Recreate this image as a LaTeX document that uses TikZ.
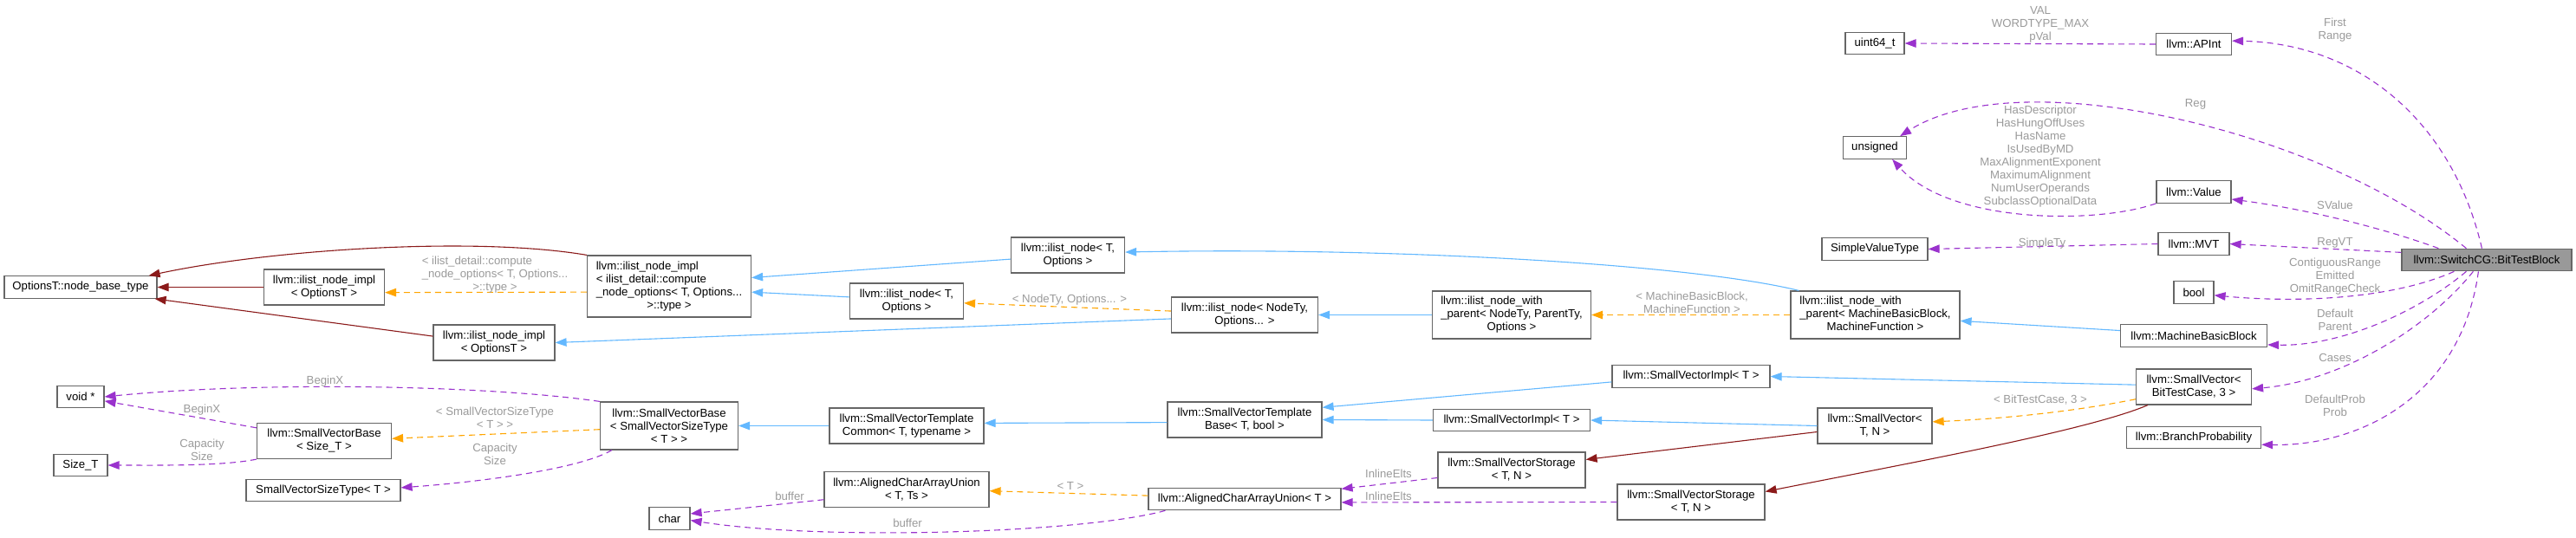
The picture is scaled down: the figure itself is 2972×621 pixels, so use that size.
\documentclass[tikz,border=0pt]{standalone}
\usepackage{fontspec}
\setmainfont{Liberation Sans}
\usetikzlibrary{arrows.meta}
\definecolor{edgeblue}{HTML}{63B8FF}
\definecolor{edgered}{HTML}{8B1A1A}
\definecolor{edgeorange}{HTML}{FFA500}
\definecolor{edgepurple}{HTML}{9A32CD}
\definecolor{lblgray}{HTML}{9A9A9A}
\definecolor{boxgray}{HTML}{666666}
\definecolor{focusgray}{HTML}{999999}
% left-aligned lines, last line centred (doxygen style)
\newcommand{\leftlines}[2]{\begin{tabular}{@{}l@{}}#1\\\multicolumn{1}{@{}c@{}}{#2}\end{tabular}}

\begin{document}
\begin{tikzpicture}[
    x=1pt, y=-1pt,
    every node/.style = {font=\fontsize{13.2}{15}\selectfont},
    cls/.style = {draw=boxgray, fill=white, line width=1.2pt, inner sep=2pt,
                  align=center, minimum height=25.5},
    lines2/.style = {minimum height=41},
    lines3/.style = {minimum height=55},
    lines4/.style = {minimum height=71},
    focus/.style = {cls, fill=focusgray},
    lbl/.style = {text=lblgray, inner sep=0pt, align=center},
    headtip/.style = {-{Triangle[length=13pt, width=9.5pt]}},
    barr/.style = {headtip, line width=1.1pt, edgeblue},
    rarr/.style = {headtip, line width=1.1pt, edgered},
    oarr/.style = {headtip, line width=1.1pt, edgeorange, dash pattern=on 7pt off 5pt},
    parr/.style = {headtip, line width=1.1pt, edgepurple, dash pattern=on 7pt off 5pt},
]
\useasboundingbox (0,0) rectangle (2972,621);

% ilist node chain
\node[cls, minimum width=176] (optBase) at (93,331.5) {OptionsT::node\_base\_type};
\node[cls, lines2, minimum width=139] (implOptsA) at (374,331.5) {llvm::ilist\_node\_impl\\< OptionsT >};
\node[cls, lines2, minimum width=140] (implOptsB) at (570,395.5) {llvm::ilist\_node\_impl\\< OptionsT >};
\node[cls, lines4, minimum width=189] (implCompute) at (772,330.5)
    {\leftlines{llvm::ilist\_node\_impl\\< ilist\_detail::compute\\\_node\_options< T, Options...}{>::type >}};
\node[cls, lines2, minimum width=131] (nodeTOptA) at (1232,294.5) {llvm::ilist\_node< T,\\Options >};
\node[cls, lines2, minimum width=131] (nodeTOptB) at (1046,347.5) {llvm::ilist\_node< T,\\Options >};
\node[cls, lines2, minimum width=169] (nodeTyOpts) at (1436,363.5) {llvm::ilist\_node< NodeTy,\\Options... >};
\node[cls, lines3, minimum width=183] (withParentGen) at (1744,363.5)
    {\leftlines{llvm::ilist\_node\_with\\\_parent< NodeTy, ParentTy,}{Options >}};
\node[cls, lines3, minimum width=195] (withParentMBB) at (2163.5,363.5)
    {\leftlines{llvm::ilist\_node\_with\\\_parent< MachineBasicBlock,}{MachineFunction >}};

% SmallVector chain
\node[cls, lines2, minimum width=155] (svbSizeT) at (374,509) {llvm::SmallVectorBase\\< Size\_T >};
\node[cls, lines3, minimum width=159] (svbSVST) at (772,491.5) {llvm::SmallVectorBase\\< SmallVectorSizeType\\< T > >};
\node[cls, lines2, minimum width=178] (svtCommon) at (1046,491.5) {llvm::SmallVectorTemplate\\Common< T, typename >};
\node[cls, lines2, minimum width=178] (svtBase) at (1436,484.5) {llvm::SmallVectorTemplate\\Base< T, bool >};
\node[cls, minimum width=182] (svImplA) at (1951,434.5) {llvm::SmallVectorImpl< T >};
\node[cls, minimum width=181] (svImplB) at (1744,485) {llvm::SmallVectorImpl< T >};
\node[cls, lines2, minimum width=170] (svStorA) at (1744,542.5) {llvm::SmallVectorStorage\\< T, N >};
\node[cls, lines2, minimum width=170] (svStorB) at (1951,579.5) {llvm::SmallVectorStorage\\< T, N >};
\node[cls, lines2, minimum width=132] (svTN) at (2163,491.5) {llvm::SmallVector<\\T, N >};
\node[cls, lines2, minimum width=133] (svBTC) at (2531,446.5) {llvm::SmallVector<\\BitTestCase, 3 >};
\node[cls, minimum width=222] (acauT) at (1436,576) {llvm::AlignedCharArrayUnion< T >};
\node[cls, lines2, minimum width=190] (acauTs) at (1046,565) {llvm::AlignedCharArrayUnion\\< T, Ts >};

% member types
\node[cls, minimum width=54] (voidp) at (93,458) {void *};
\node[cls, minimum width=62] (sizeT) at (93,537) {Size\_T};
\node[cls, minimum width=178] (svSizeType) at (373,566) {SmallVectorSizeType< T >};
\node[cls, minimum width=47] (charT) at (772.5,598.5) {char};
\node[cls, minimum width=68] (uint64) at (2163,50) {uint64\_t};
\node[cls, minimum width=73] (unsignedT) at (2163,170.5) {unsigned};
\node[cls, minimum width=122] (svt) at (2163,287.5) {SimpleValueType};
\node[cls, minimum width=87] (apint) at (2531,51) {llvm::APInt};
\node[cls, minimum width=86] (value) at (2531,221.5) {llvm::Value};
\node[cls, minimum width=82] (mvt) at (2531,281.5) {llvm::MVT};
\node[cls, minimum width=46] (boolT) at (2531,337.5) {bool};
\node[cls, minimum width=169] (mbb) at (2531,387.5) {llvm::MachineBasicBlock};
\node[cls, minimum width=155] (bp) at (2531,505) {llvm::BranchProbability};
\node[focus, minimum width=196] (btb) at (2869,300) {llvm::SwitchCG::BitTestBlock};

% private inheritance
\draw[rarr] (implCompute.north west) .. controls +(-130,-22) and +(140,-30) .. ([xshift=-10pt]optBase.north east);
\draw[rarr] (implOptsA.west) -- (optBase.east);
\draw[rarr] (implOptsB.174) -- ([xshift=-3pt]optBase.south east);
\draw[rarr] ([xshift=14pt]svBTC.south west) .. controls +(-70,30) and +(150,-30) .. (svStorB.8);
\draw[rarr] (svTN.186) -- (svStorA.8);

% public inheritance
\draw[barr] (nodeTOptA.184) -- (implCompute.6);
\draw[barr] (nodeTOptB.176) -- (implCompute.-4);
\draw[barr] (nodeTyOpts.183) -- (implOptsB.east);
\draw[barr] ([xshift=10pt]withParentMBB.north west) .. controls +(-126,-31) and +(302,-6) .. (nodeTOptA.3);
\draw[barr] (withParentGen.west) -- (nodeTyOpts.east);
\draw[barr] (mbb.176) -- (withParentMBB.-4);
\draw[barr] (svtCommon.west) -- (svbSVST.east);
\draw[barr] (svtBase.182) -- (svtCommon.2);
\draw[barr] (svImplA.184) -- (svtBase.9);
\draw[barr] (svImplB.west) -- (svtBase.east);
\draw[barr] (svBTC.178) -- (svImplA.east);
\draw[barr] (svTN.west) -- (svImplB.east);

% template instances
\draw[oarr] (implCompute.184) -- (implOptsA.-5);
\draw[oarr] (svbSVST.183) -- (svbSizeT.2);
\draw[oarr] (withParentMBB.west) -- (withParentGen.east);
\draw[oarr] (nodeTyOpts.177) -- (nodeTOptB.-2);
\draw[oarr] (acauT.178) -- (acauTs.-1);
\draw[oarr] (svBTC.192) .. controls +(-80,16) and +(70,-3) .. (svTN.4);

% members
\draw[parr] (svbSVST.north west) .. controls +(-132,-19) and +(180,-18) .. (voidp.east);
\draw[parr] (svbSizeT.169) -- (voidp.-10);
\draw[parr] (svbSizeT.south west) .. controls +(-40,8) and +(60,0) .. (sizeT.east);
\draw[parr] ([xshift=14pt]svbSVST.south west) .. controls +(-36,21) and +(98,-7) .. (svSizeType.2);
\draw[parr] (acauTs.187) -- (charT.13);
\draw[parr] ([xshift=20pt]acauT.south west) .. controls +(-95,26) and +(154,24) .. (charT.-5);
\draw[parr] (svStorA.186) -- (acauT.6);
\draw[parr] (svStorB.west) -- (acauT.-2);
\draw[parr] (apint.west) -- (uint64.east);
\draw[parr] (value.south west) .. controls +(-68,24) and +(67,75) .. ([xshift=-17pt]unsignedT.south east);
\draw[parr] ([xshift=75pt]btb.north west) .. controls +(-166,-137) and +(138,-88) .. ([xshift=-8pt]unsignedT.north east);
\draw[parr] (mvt.west) -- (svt.east);
\draw[parr] ([xshift=93pt]btb.north west) .. controls +(-34,-147) and +(146,3) .. (apint.5);
\draw[parr] ([xshift=43pt]btb.north west) .. controls +(-74,-27) and +(76,10) .. (value.-11);
\draw[parr] (btb.175) -- (mvt.east);
\draw[parr] ([xshift=61pt]btb.south west) .. controls +(-72,32) and +(96,9) .. (boolT.-8);
\draw[parr] ([xshift=75pt]btb.south west) .. controls +(-56,47) and +(84,2) .. (mbb.-7);
\draw[parr] ([xshift=83pt]btb.south west) .. controls +(-54,67) and +(102,-9) .. (svBTC.-2);
\draw[parr] ([xshift=89pt]btb.south west) .. controls +(-20,146) and +(111,2) .. (bp.-6);

% edge labels
\node[lbl] (lbCompute) at (571,317) {\leftlines{< ilist\_detail::compute\\\_node\_options< T, Options...}{>::type >}};
\node[lbl] (lbSVST) at (571,482.5) {< SmallVectorSizeType\\< T > >};
\node[lbl] (lbBeginXa) at (375,440) {BeginX};
\node[lbl] (lbBeginXb) at (233,473) {BeginX};
\node[lbl] (lbCapSizeA) at (233,519.5) {Capacity\\Size};
\node[lbl] (lbCapSizeB) at (571,524.5) {Capacity\\Size};
\node[lbl] (lbNodeTy) at (1234,346) {< NodeTy, Options... >};
\node[lbl] (lbMBBMF) at (1952,349.5) {< MachineBasicBlock,\\MachineFunction >};
\node[lbl] (lbBufA) at (911,573) {buffer};
\node[lbl] (lbBufB) at (1047,604) {buffer};
\node[lbl] (lbTT) at (1235,561) {< T >};
\node[lbl] (lbInlA) at (1602,547) {InlineElts};
\node[lbl] (lbInlB) at (1602,573) {InlineElts};
\node[lbl] (lbBTC3) at (2354,462) {< BitTestCase, 3 >};
\node[lbl] (lbVAL) at (2354,28) {VAL\\WORDTYPE\_MAX\\pVal};
\node[lbl] (lbFlags) at (2354,180.5) {HasDescriptor\\HasHungOffUses\\HasName\\IsUsedByMD\\MaxAlignmentExponent\\MaximumAlignment\\NumUserOperands\\SubclassOptionalData};
\node[lbl] (lbReg) at (2533,120) {Reg};
\node[lbl] (lbSimpleTy) at (2356,281) {SimpleTy};
\node[lbl] (lbFirst) at (2694,34.5) {First\\Range};
\node[lbl] (lbSValue) at (2694,237) {SValue};
\node[lbl] (lbRegVT) at (2694,280) {RegVT};
\node[lbl] (lbContig) at (2694,319) {ContiguousRange\\Emitted\\OmitRangeCheck};
\node[lbl] (lbDefault) at (2694,369.5) {Default\\Parent};
\node[lbl] (lbCases) at (2694,413) {Cases};
\node[lbl] (lbProb) at (2694,468.5) {DefaultProb\\Prob};
\end{tikzpicture}
\end{document}
